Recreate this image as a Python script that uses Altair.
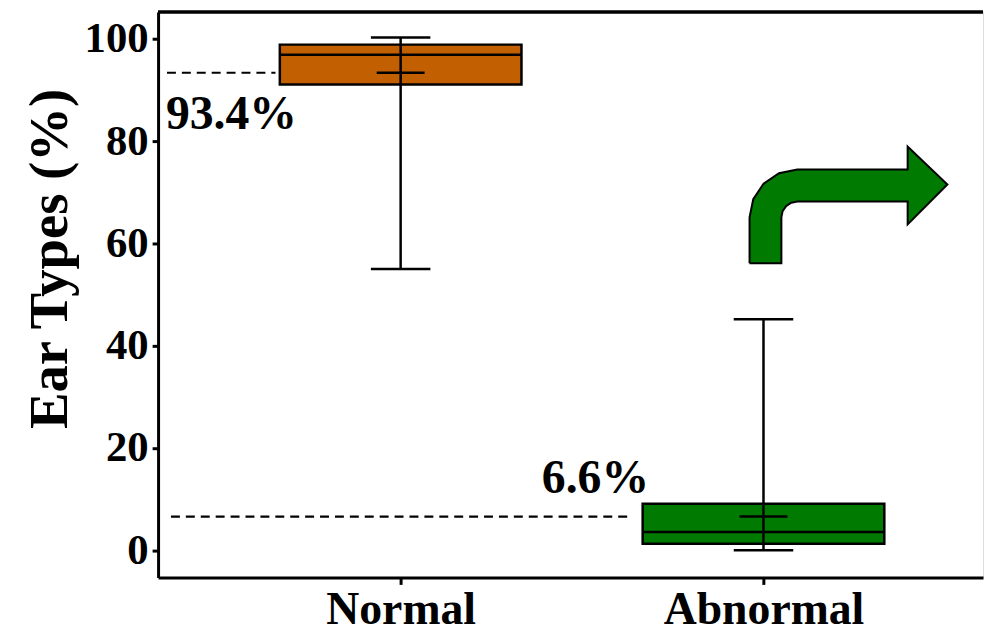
import altair as alt
import pandas as pd

# ---- data ----
groups = ["Normal", "Abnormal"]
group_pos = [1, 2]
box_colors = ["#C25F00", "#007A00"]
whisker_low = [55.0, 0.0]
q1 = [91.1, 1.3]
median = [96.9, 3.6]
q3 = [98.9, 9.1]
whisker_high = [100.3, 45.2]
mean = [93.4, 6.6]
mean_labels = ["93.4%", "6.6%"]

# dashed reference lines (start / end along x, in category units)
dash_start = [0.356, 0.367]
dash_end = [0.655, 1.633]
label_x = [0.353, 1.389]
label_y = [85.2, 14.0]

# decorative bent arrow outline (x in category units, y in %)
arrow_x = [1.9616, 1.9616, 1.9718, 2.0003, 2.0427, 2.0932, 2.3973, 2.3973, 2.5068,
           2.3973, 2.3973, 2.0932, 2.0764, 2.0622, 2.0526, 2.0493, 2.0493, 1.9616]
arrow_y = [56.14, 65.11, 68.69, 71.72, 73.74, 74.46, 74.46, 78.95, 71.54,
           63.74, 68.23, 68.23, 67.99, 67.31, 66.30, 65.11, 56.14, 56.14]

X_DOMAIN = [0.3315, 2.605]
Y_DOMAIN = [-5.3, 105.3]
W, H = 830, 569
BOX_HALF = 0.333
CAP_HALF = 0.082
MEAN_HALF = 0.066
FONT = "Liberation Serif"

df = pd.DataFrame({
    "group": groups, "pos": group_pos, "color": box_colors,
    "lo": whisker_low, "q1": q1, "med": median, "q3": q3, "hi": whisker_high,
    "mean": mean, "label": mean_labels, "ds": dash_start, "de": dash_end,
    "lx": label_x, "ly": label_y,
})
df["bx1"] = df["pos"] - BOX_HALF
df["bx2"] = df["pos"] + BOX_HALF
df["cx1"] = df["pos"] - CAP_HALF
df["cx2"] = df["pos"] + CAP_HALF
df["mx1"] = df["pos"] - MEAN_HALF
df["mx2"] = df["pos"] + MEAN_HALF

arrow_df = pd.DataFrame({"x": arrow_x, "y": arrow_y, "i": range(len(arrow_x))})

xs = alt.Scale(domain=X_DOMAIN, nice=False, zero=False)
ys = alt.Scale(domain=Y_DOMAIN, nice=False, zero=False)

x_axis = alt.Axis(values=[1, 2], labelExpr="datum.value == 1 ? 'Normal' : 'Abnormal'",
                  title=None, grid=False, labelFont=FONT, labelFontSize=46,
                  labelFontWeight="bold", labelColor="black", domainColor="black",
                  domainWidth=3, tickColor="black", tickWidth=3, tickSize=7,
                  labelPadding=3, labelLimit=0)
y_axis = alt.Axis(values=[0, 20, 40, 60, 80, 100], title="Ear Types (%)", grid=False,
                  labelFont=FONT, labelFontSize=43, labelFontWeight="bold",
                  labelColor="black", titleFont=FONT, titleFontSize=55,
                  titleFontWeight="bold", titleColor="black", domainColor="black",
                  domainWidth=3, tickColor="black", tickWidth=3, tickSize=6,
                  labelPadding=4, titlePadding=6, labelLimit=0, titleY=248)

base = alt.Chart(df)
SW = 2.5

boxes = base.mark_bar(stroke="black", strokeWidth=SW).encode(
    x=alt.X("bx1:Q", scale=xs, axis=x_axis), x2="bx2:Q",
    y=alt.Y("q1:Q", scale=ys, axis=y_axis), y2="q3:Q",
    color=alt.Color("color:N", scale=None),
)
whisk = base.mark_rule(color="black", strokeWidth=SW).encode(
    x="pos:Q", y="lo:Q", y2="hi:Q")
cap_lo = base.mark_rule(color="black", strokeWidth=SW).encode(
    x="cx1:Q", x2="cx2:Q", y="lo:Q")
cap_hi = base.mark_rule(color="black", strokeWidth=SW).encode(
    x="cx1:Q", x2="cx2:Q", y="hi:Q")
med = base.mark_rule(color="black", strokeWidth=SW).encode(
    x="bx1:Q", x2="bx2:Q", y="med:Q")
mean_tick = base.mark_rule(color="black", strokeWidth=SW).encode(
    x="mx1:Q", x2="mx2:Q", y="mean:Q")
dashes = base.mark_rule(color="black", strokeWidth=2.2, strokeDash=[9, 6]).encode(
    x="ds:Q", x2="de:Q", y="mean:Q")
labels = base.mark_text(font=FONT, fontSize=48, fontWeight="bold", color="black",
                        align="left", baseline="middle").encode(
    x="lx:Q", y="ly:Q", text="label:N")

arrow = alt.Chart(arrow_df).mark_line(fill="#007A00", stroke="black", strokeWidth=2,
                                      interpolate="linear").encode(
    x=alt.X("x:Q", scale=xs), y=alt.Y("y:Q", scale=ys), order="i:Q")

top_line = alt.Chart(df).mark_rule(color="black", strokeWidth=3).encode(
    x=alt.value(0), x2=alt.value(W), y=alt.value(0))

chart = alt.layer(boxes, whisk, cap_lo, cap_hi, med, mean_tick, dashes, labels,
                  arrow, top_line).properties(
    width=W, height=H,
    padding={"left": 14, "top": 0, "right": 0, "bottom": 0},
).configure_view(stroke=None).configure(background="white")

chart.save("out.html", embed_options={"renderer": "svg", "actions": False})
